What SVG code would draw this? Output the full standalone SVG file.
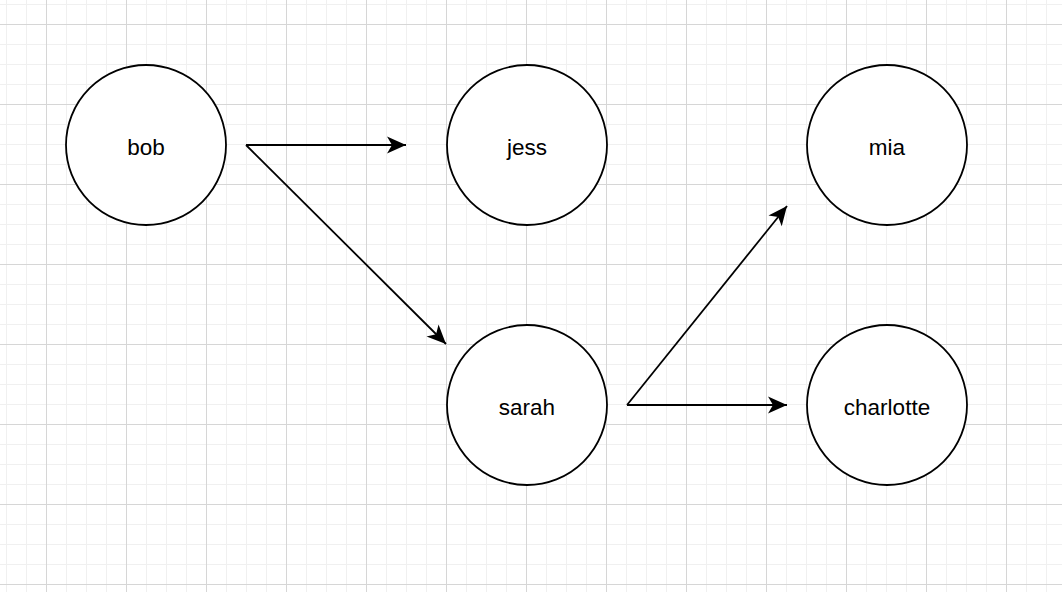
<svg xmlns="http://www.w3.org/2000/svg" width="1062" height="592" viewBox="0 0 1062 592">
<defs>
<pattern id="minor" x="6" y="4" width="20" height="20" patternUnits="userSpaceOnUse">
<path d="M0.5 0V20M0 0.5H20" fill="none" stroke="#f0f0f0" stroke-width="1"/>
</pattern>
<pattern id="major" x="46" y="24" width="80" height="80" patternUnits="userSpaceOnUse">
<path d="M0.5 0V80M0 0.5H80" fill="none" stroke="#d6d6d6" stroke-width="1"/>
</pattern>
<marker id="arrow" markerUnits="userSpaceOnUse" markerWidth="24" markerHeight="20" viewBox="-20 -10 24 20" refX="0" refY="0" orient="auto">
<path d="M0 0L-19 -8.5L-14 0L-19 8.5Z" fill="#000"/>
</marker>
</defs>
<style>
.node{fill:#fff;stroke:#000;stroke-width:1.8}
.lbl{font-family:"Liberation Sans",Arial,sans-serif;font-size:22.5px;fill:#000;text-anchor:middle}
.edge{fill:none;stroke:#000;stroke-width:1.8;marker-end:url(#arrow)}
</style>
<rect width="1062" height="592" fill="#fff"/>
<rect width="1062" height="592" fill="url(#minor)"/>
<rect width="1062" height="592" fill="url(#major)"/>
<g id="connectors">
<line class="edge" x1="246" y1="145" x2="406" y2="145"/>
<line class="edge" x1="246" y1="145" x2="446" y2="344"/>
<line class="edge" x1="627" y1="405" x2="787" y2="206"/>
<line class="edge" x1="627" y1="405" x2="787" y2="405"/>
</g>
<g id="bob"><circle class="node" cx="146" cy="145" r="80"/><text class="lbl" x="146" y="155">bob</text></g>
<g id="jess"><circle class="node" cx="527" cy="145" r="80"/><text class="lbl" x="527" y="155">jess</text></g>
<g id="mia"><circle class="node" cx="887" cy="145" r="80"/><text class="lbl" x="887" y="155">mia</text></g>
<g id="sarah"><circle class="node" cx="527" cy="405" r="80"/><text class="lbl" x="527" y="415">sarah</text></g>
<g id="charlotte"><circle class="node" cx="887" cy="405" r="80"/><text class="lbl" x="887" y="415">charlotte</text></g>
</svg>
